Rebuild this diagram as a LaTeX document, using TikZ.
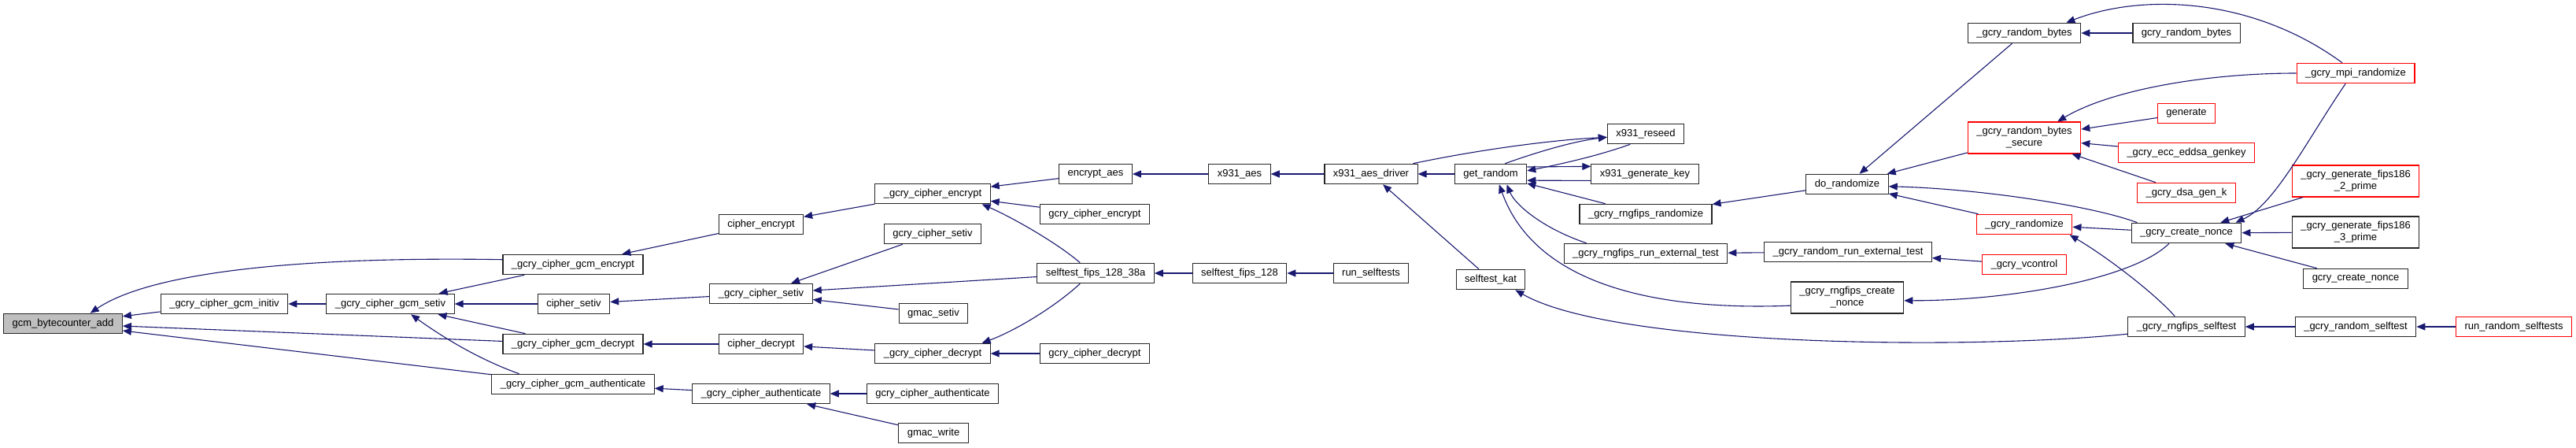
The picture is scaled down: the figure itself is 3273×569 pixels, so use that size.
\documentclass[tikz,border=0pt]{standalone}
\usepackage{fontspec}
\setmainfont{Liberation Sans}
\usetikzlibrary{arrows.meta}
\definecolor{edgeblue}{HTML}{191970}
\newcommand\dotfont{\fontsize{13}{15}\selectfont}
\tikzset{
fn/.style={draw=black!85,line width=1.1pt,fill=white,inner xsep=11pt,inner ysep=0pt,minimum height=25.5pt,align=center,font=\dotfont},
fnred/.style={fn,draw=red},
fnroot/.style={fn,fill=black!25},
twoline/.style={minimum height=40pt},
calls/.style={-{Triangle[length=11pt,width=9pt]},draw=edgeblue,line width=1.1pt}
}
\begin{document}
\begin{tikzpicture}[x=1pt,y=1pt]
\useasboundingbox(0,0)rectangle(3273,-569);
\node[fnroot](gcm) at (80,-411){gcm\_bytecounter\_add};
\node[fn](initiv) at (285,-386){\_gcry\_cipher\_gcm\_initiv};
\node[fn](gcmsetiv) at (496,-386){\_gcry\_cipher\_gcm\_setiv};
\node[fn](gcmenc) at (728,-336){\_gcry\_cipher\_gcm\_encrypt};
\node[fn](ciphsetiv) at (729,-386){cipher\_setiv};
\node[fn](gcmdec) at (728,-437){\_gcry\_cipher\_gcm\_decrypt};
\node[fn](gcmauth) at (728,-488){\_gcry\_cipher\_gcm\_authenticate};
\node[fn](ciphenc) at (967,-285){cipher\_encrypt};
\node[fn](csetiv) at (967,-373){\_gcry\_cipher\_setiv};
\node[fn](ciphdec) at (967,-437){cipher\_decrypt};
\node[fn](cauth) at (967,-500){\_gcry\_cipher\_authenticate};
\node[fn](cenc) at (1185,-246){\_gcry\_cipher\_encrypt};
\node[fn](gsetiv) at (1185,-297){gcry\_cipher\_setiv};
\node[fn](gmacsetiv) at (1186,-398){gmac\_setiv};
\node[fn](cdec) at (1185,-449){\_gcry\_cipher\_decrypt};
\node[fn](gauth) at (1185,-500){gcry\_cipher\_authenticate};
\node[fn](gmacwrite) at (1186,-550){gmac\_write};
\node[fn](encaes) at (1392,-221){encrypt\_aes};
\node[fn](genc) at (1391,-272){gcry\_cipher\_encrypt};
\node[fn](fips38a) at (1392,-347){selftest\_fips\_128\_38a};
\node[fn](gdec) at (1391,-449){gcry\_cipher\_decrypt};
\node[fn](x931aes) at (1575,-221){x931\_aes};
\node[fn](fips128) at (1575,-347){selftest\_fips\_128};
\node[fn](driver) at (1742,-221){x931\_aes\_driver};
\node[fn](runself) at (1742,-347){run\_selftests};
\node[fn](getrand) at (1894,-221){get\_random};
\node[fn](kat) at (1894,-355){selftest\_kat};
\node[fn](reseed) at (2091,-170){x931\_reseed};
\node[fn](genkey) at (2090,-221){x931\_generate\_key};
\node[fn](fipsrand) at (2091,-272){\_gcry\_rngfips\_randomize};
\node[fn](fipsext) at (2091,-322){\_gcry\_rngfips\_run\_external\_test};
\node[fn](dorand) at (2347,-234){do\_randomize};
\node[fn](randext) at (2348,-320){\_gcry\_random\_run\_external\_test};
\node[fn,twoline](fipsnonce) at (2347,-378){\_gcry\_rngfips\_create\\\_nonce};
\node[fn](rbytes) at (2572,-42){\_gcry\_random\_bytes};
\node[fnred,twoline](rbsec) at (2572,-175){\_gcry\_random\_bytes\\\_secure};
\node[fnred](randomize) at (2572,-285){\_gcry\_randomize};
\node[fnred](vcontrol) at (2572,-336){\_gcry\_vcontrol};
\node[fn](grbytes) at (2778,-42){gcry\_random\_bytes};
\node[fnred](generate) at (2778,-144){generate};
\node[fnred](eddsa) at (2778,-194){\_gcry\_ecc\_eddsa\_genkey};
\node[fnred](dsagenk) at (2778,-245){\_gcry\_dsa\_gen\_k};
\node[fn](cnonce) at (2778,-296){\_gcry\_create\_nonce};
\node[fn](fipsself) at (2778,-415){\_gcry\_rngfips\_selftest};
\node[fnred](mpirand) at (2993,-93){\_gcry\_mpi\_randomize};
\node[fnred,twoline](fips2) at (2993,-230){\_gcry\_generate\_fips186\\\_2\_prime};
\node[fn,twoline](fips3) at (2993,-295){\_gcry\_generate\_fips186\\\_3\_prime};
\node[fn](gnonce) at (2993,-354){gcry\_create\_nonce};
\node[fn](rself) at (2993,-415){\_gcry\_random\_selftest};
\node[fnred](runrself) at (3194,-415){run\_random\_selftests};
\draw[calls](initiv)--(gcm);
\draw[calls](gcmenc.176)..controls(420,-326)and(200,-340)..(gcm.21);
\draw[calls](gcmdec)--(gcm);
\draw[calls](gcmauth)--(gcm);
\draw[calls](gcmsetiv)--(initiv);
\draw[calls](gcmenc)--(gcmsetiv);
\draw[calls](ciphsetiv)--(gcmsetiv);
\draw[calls](gcmdec)--(gcmsetiv);
\draw[calls](gcmauth.169)..controls(610,-457)and(565,-430)..(gcmsetiv.-27);
\draw[calls](ciphenc)--(gcmenc);
\draw[calls](csetiv)--(ciphsetiv);
\draw[calls](ciphdec)--(gcmdec);
\draw[calls](cauth)--(gcmauth);
\draw[calls](cenc)--(ciphenc);
\draw[calls](gsetiv)--(csetiv);
\draw[calls](fips38a)--(csetiv);
\draw[calls](gmacsetiv)--(csetiv);
\draw[calls](cdec)--(ciphdec);
\draw[calls](gauth)--(cauth);
\draw[calls](gmacwrite)--(cauth);
\draw[calls](encaes)--(cenc);
\draw[calls](genc)--(cenc);
\draw[calls](fips38a.146)..controls(1345,-310)and(1290,-278)..(cenc.-12);
\draw[calls](fips38a.-146)..controls(1340,-390)and(1290,-420)..(cdec.12);
\draw[calls](gdec)--(cdec);
\draw[calls](x931aes)--(encaes);
\draw[calls](fips128)--(fips38a);
\draw[calls](driver)--(x931aes);
\draw[calls](runself)--(fips128);
\draw[calls](getrand)--(driver);
\draw[calls](kat)--(driver);
\draw[calls](driver.14)..controls(1880,-190)and(1970,-178)..(reseed.185);
\draw[calls](getrand.36)..controls(1945,-196)and(1995,-180)..(reseed.185);
\draw[calls](reseed.-146)..controls(2030,-198)and(1985,-208)..(getrand.5);
\draw[calls](getrand.11)--(genkey.172);
\draw[calls](genkey.187)--(getrand.-10);
\draw[calls](fipsrand)--(getrand);
\draw[calls](fipsext.170)..controls(1960,-290)and(1925,-260)..(getrand.-33);
\draw[calls](fipsnonce.188)..controls(2100,-395)and(1950,-360)..(getrand.-51);
\draw[calls](fipsself.187)..controls(2500,-445)and(2050,-440)..(kat.-23);
\draw[calls](dorand)--(fipsrand);
\draw[calls](randext)--(fipsext);
\draw[calls](vcontrol)--(randext);
\draw[calls](rbytes)--(dorand);
\draw[calls](rbsec)--(dorand);
\draw[calls](cnonce.168)..controls(2660,-262)and(2520,-240)..(dorand.-3);
\draw[calls](randomize)--(dorand);
\draw[calls](grbytes)--(rbytes);
\draw[calls](mpirand.142)..controls(2860,5)and(2720,8)..(rbytes.14);
\draw[calls](mpirand.west)..controls(2800,-93)and(2680,-115)..(rbsec.26);
\draw[calls](generate)--(rbsec);
\draw[calls](eddsa)--(rbsec);
\draw[calls](dsagenk)--(rbsec);
\draw[calls](cnonce)--(randomize);
\draw[calls](fipsself.138)..controls(2740,-375)and(2680,-328)..(randomize.-13);
\draw[calls](cnonce.-149)..controls(2710,-355)and(2550,-382)..(fipsnonce.-3);
\draw[calls](mpirand.-134)..controls(2930,-180)and(2890,-260)..(cnonce.12);
\draw[calls](fips2)--(cnonce);
\draw[calls](fips3)--(cnonce);
\draw[calls](gnonce)--(cnonce);
\draw[calls](rself)--(fipsself);
\draw[calls](runrself)--(rself);
\end{tikzpicture}
\end{document}
